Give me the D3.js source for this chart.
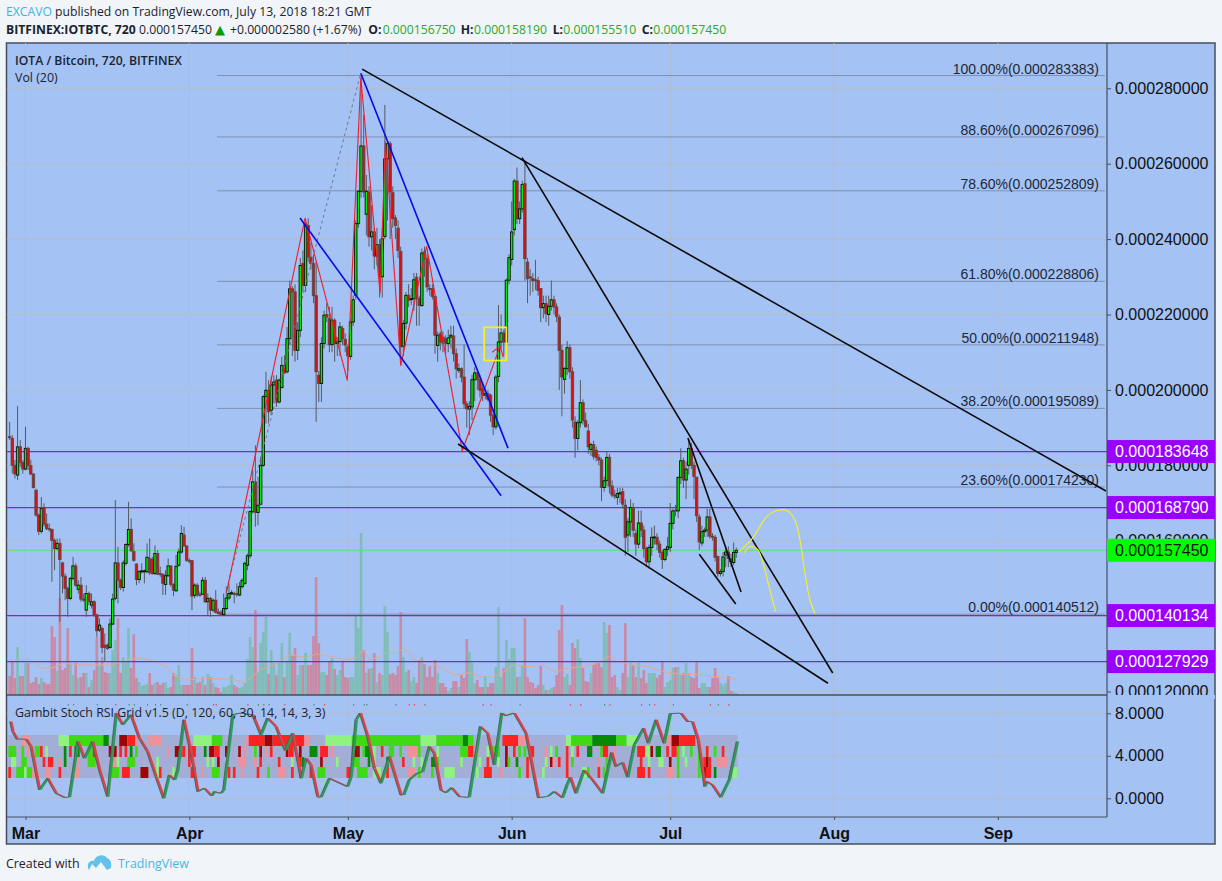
<!doctype html>
<html lang="en">
<head>
  <meta charset="utf-8">
  <title>IOTA / Bitcoin, 720, BITFINEX</title>
  <style>
    html, body { margin: 0; padding: 0; background: #f1f5f8; }
    svg { display: block; }
    .sans { font-family: "Open Sans", sans-serif; }
    .arial { font-family: "Liberation Sans", Arial, sans-serif; }
    .axis path, .axis line { stroke: #454f5e; }
    .axis text { fill: #111; }
  </style>
</head>
<body>
<div id="chart"></div>
<script src="https://cdn.jsdelivr.net/npm/d3@7"></script>
<script>
// prices are in units of 0.000001 BTC, one value per 12h candle
const opens = [
  187.6,187.1,180,177.4,184.9,180.7,179,184.5,179.9,177.7,
  173.4,166.8,162.5,168.8,164.4,163.2,163,160.1,157.9,159.3,
  154.1,150.6,147.3,144.7,150,153.3,147.1,148.2,144.5,141.6,
  146,142.9,143.8,140.3,136.3,136.7,132.3,132.3,131.7,137.9,
  144.7,154.1,149.5,147.6,154,159,163,157.1,153.8,149.7,
  151.8,151.8,151.8,155.3,155,151.3,156.6,151.3,151.1,148.4,
  150.7,153.3,148.4,146.7,153.5,157,161.5,158.6,154.8,154.7,
  145.5,148.2,145.8,145.8,149.5,143.8,144.7,141.6,144.2,141.1,
  140.9,140.4,142,144.8,146,146,146,145.6,147.8,148.7,
  153.5,156,167.7,175.6,167.5,169.7,180,198.2,199.9,194.6,
  201.3,202.6,196.8,200.6,206.5,204.8,213.6,226.8,226,210.5,
  215.8,233.5,227.7,243.6,235.2,233.5,225,203.9,201.7,212.3,
  220,219,212,218.5,212.3,212.8,216.3,213.4,211.4,208.9,
  218,225.1,244.1,252.7,264.7,246.6,252.5,240.6,241.9,235.5,
  238.5,230,240.7,261.3,265.3,252.3,245.6,242.9,236.7,211.6,
  217.7,225.1,224.2,224.2,229.9,224.2,222.4,236.6,234.8,226.9,
  226.9,224.8,211.8,214.9,214,213.5,212.3,214,214.3,209.6,
  205.2,205.6,203.4,196.3,194.9,195.5,202.7,204.5,202.7,200.4,
  198.6,199,198.6,193.3,190.2,203.6,212.7,215.1,212.7,229.1,
  234.6,242.5,255.4,245.4,248,254.7,233.9,230,229.5,229.2,
  229,226.9,221.8,222.9,220,222.2,223.9,222,219.3,210.5,
  202.8,205.7,211.2,204.8,191.5,187.1,191.3,196.6,191.8,189.1,
  184.2,185.5,184,182.1,181.4,174.1,176,182.1,174.5,172.1,
  171.5,172.5,173,169.4,161.5,165,168.8,161.9,159.1,164.7,
  162.8,157.9,154.4,158.2,160.9,160.9,159.1,156.9,155,157.7,
  158.2,164.6,168.1,167.9,176.8,181.2,176.1,180,184.5,180,
  176.8,166.3,159.4,162.4,162.8,166.3,161.2,160.9,155.8,151.3,
  151.8,156.2,157,155.3,154.2,156.9
];
const closes = [
  187.4,180,177.7,184.9,180.7,179,184.5,179.9,177.7,174.1,
  166.8,162.5,168.5,164.4,163.2,163,160.1,157.9,159.3,155,
  150.6,147.3,144.7,150,153.3,148.2,148.2,144.5,144.4,146,
  143.8,143.8,140.3,136.1,137.6,131.7,131.7,131.4,137.9,144.5,
  154.1,149.5,147.6,154.1,159,163,157.3,154.8,149.7,151.8,
  152,152,155.6,151.5,151.3,156.6,151.1,151,148.7,150.7,
  153.3,148.4,146.9,153.2,157,161.9,158.6,154.8,154.7,145.3,
  148.2,145.6,145.6,149.5,143.8,144.7,141.6,144.2,141,140.7,
  140.5,142,144.8,146,146.2,145.7,145.7,147.8,149.5,154,
  156,167.7,175.6,167.5,169.4,180,198.2,199.9,194.2,201.3,
  202.1,196.8,202.6,206.5,204.5,213.6,226.8,226,210.5,215.8,
  233,227.7,243.9,235.2,233.5,225,204.8,201.7,212.3,219.8,
  219.3,212,218.5,212.3,212.8,216.7,213.6,211.9,209,218,
  223.9,244.1,252.7,264.7,252.5,252.7,240.6,241.9,235.5,238.5,
  230,240.1,261.3,265.3,252.5,245.4,243.6,237,211.4,217.6,
  225.1,223.8,224.2,229.2,224.2,222.4,236.3,234.8,227.3,226.7,
  224.8,214.5,214.5,212.7,212.4,212.4,213.8,214.5,209.6,205.6,
  205.6,203.4,196.3,195,195.6,202.7,204.5,202.7,199.9,198.6,
  199,197.5,193.3,190.2,203.4,212.7,215.1,212.7,229.1,235.1,
  241.9,255.4,245.4,248,254.5,234.8,229.5,229.9,229,229,
  226.4,221.8,222.9,220.2,222.2,223.9,222,219.5,210.5,203.4,
  205.7,211.2,204.8,192,187.1,191.3,196.6,191.8,190.2,184.9,
  185.5,182.4,182.1,181.4,174.1,175.9,182.1,174.5,172.1,172,
  172.5,172.7,169.7,160.9,165,168.8,162.8,159.1,164.7,162.8,
  157.9,154.4,158.2,160.9,161,159.1,156.9,155,157.7,158.4,
  164.6,167.9,167.9,176.8,181.2,176.1,179,184.5,180,177,
  166.6,159.7,162.4,162.8,166.3,161.2,160.9,155.6,151.3,151.8,
  155.7,157,155.3,154.4,156.9,157.45
];
const highs = [
  191.5,188,181.4,195.7,186.7,181.4,190.2,184.9,181.5,177.8,
  173.8,167.2,171.6,169.9,167.2,164.6,163.2,160.6,160.6,160.6,
  154.4,151.3,147.8,150.4,155.7,154,149.5,150.4,146,148.2,
  146.5,146,144.2,140.7,139.4,137.2,135.4,132.7,139.4,146,
  170.8,158.4,150,154.8,159.3,170.3,165.9,159.3,154,152.2,
  154,152.4,159.3,160.6,155.7,158.8,157.5,153.1,151.3,152.2,
  155.3,153.5,148.7,156.2,158,164.1,163.7,158.8,155.3,154.8,
  148.7,148.7,146.5,150.4,150.4,146,145.1,144.7,146.9,142,
  141.6,146,147.8,148.7,146.9,146.5,148.7,149.1,150,154.4,
  156.6,168.1,178.7,185.3,176.9,182.3,198.6,204.8,202.6,203.5,
  203.9,203.9,203,208.8,209.2,216.7,229,227.5,228,218,
  235,237,244.5,245.5,239,236,234,205,214,221,
  223,222,222,219,214,218,217,215,212,219,
  225,245,253,283.5,273,257,254,249,243,243,
  240,243,275.6,266,266,254,246.4,245,238,218.5,
  226,228,227,231,231,225,237.5,238,236,228,
  228,225,215.5,215.5,215.5,214.5,216,217,217,211,
  207,206,212,197,197,204,206,205,204,202,
  200,200,199,194,204,222.5,220,216,229.5,236,
  250,256,259,250,255.5,261,235,232,231,234.5,
  230,227,225,225,225,229,225,223,220,212,
  206,213,212,206,193,192,202.6,197.5,194,191,
  186,186.5,185,183,182,177,183.5,183,176,173.5,
  174,174,174,171,166,171,170,163,168,168,
  164,158.5,159,163.5,164,162,160,157.5,158,161,
  170,168.5,169.5,177,184.5,182,181,187,186,181,
  177,167,164,163.5,168.5,168.5,162,161.5,156,152.5,
  157,158,158.5,156.5,159.5,158.2
];
const lows = [
  186.7,177.8,176.5,176.1,179.6,177.8,178.7,178.7,177.4,173.8,
  166.3,161.5,161.9,163.7,162.8,162.4,149.1,152.2,157.5,138.5,
  146,144.2,139.8,144.2,149.5,147.8,146,143.8,143.8,139.8,
  142.9,142,139.8,134.5,135.8,130.1,127.9,131,131.4,137.6,
  144.2,143.4,146.9,146.5,153.5,158.4,157.1,154.4,148.2,148.7,
  151.3,148.7,151.3,150.9,150.9,150.9,150.9,150.4,145.6,145.6,
  150.4,147.8,145.3,146.5,153.1,156.6,158.4,154.4,154,141.6,
  144.7,145.1,145.1,145.6,143.4,140.3,139.8,141.1,140.7,140.5,
  140.3,140.3,141.6,144.2,145.6,143.4,145.1,145.3,147.3,148.2,
  152.2,155.3,167.2,163.7,164.1,169.4,179.6,191.1,191.1,193.3,
  196.4,195.5,196.4,200.4,204.2,204.4,212,209,207.5,207.9,
  214,226,226,234,232,223,191.5,196.8,196.8,211,
  218,210,210,207.5,209,209,212,210,205,208,
  217,224,243,251,251,241,238,237,232,233,
  224.5,224.5,240,245,240,243,240,235,208,209,
  216,222,222.5,221,217,217,222,230,226,225,
  224,209.6,207.5,210.5,210,209.5,210,211,207.5,203,
  204.5,202,195,190,188,192,197,200,198,197,
  197.5,197,191.5,188,189.5,202,211,209,212,228,
  233,241,244,244,247,229,223,225,226,226.5,
  225,218,219,218,217,221,220,218,200,193,
  199,204,203,190,182,184,190,190.8,190,183,
  182.5,181.5,181,180,170.5,173,174.5,172.5,171.5,171,
  169.5,170,168.5,156,157,161,161,156,158,161,
  155.5,153,152.5,156,159,157.5,155.5,152.5,154.5,156,
  157,163,166.5,166,175,174,171,177.5,179,171,
  165,157.5,158.5,161,161,160.5,160,154.5,150.5,150.5,
  150.5,153,153,153,153.5,155.5
];
const volumes = [
  19,33,17,48,19,19,32,32,12,13,
  18,11,17,13,11,11,69,58,24,97,
  25,27,67,32,20,32,17,18,22,22,
  8,15,25,58,30,38,23,22,22,45,
  55,77,22,38,33,67,27,61,17,13,
  9,10,11,22,10,12,13,10,12,13,
  7,8,22,20,30,10,10,10,10,47,
  18,12,13,18,10,21,18,12,8,7,
  3,8,8,10,20,10,8,7,8,12,
  36,58,48,85,23,52,63,78,21,45,
  32,20,32,52,18,33,62,40,47,20,
  30,30,42,30,30,59,118,52,23,23,
  20,33,37,26,20,25,33,18,17,18,
  18,80,67,162,45,22,26,27,42,13,
  22,20,89,63,21,22,20,29,83,38,
  23,25,14,18,12,35,38,31,18,29,
  18,35,22,12,12,8,4,7,14,14,
  8,20,17,56,43,32,12,15,8,8,
  19,8,12,12,28,88,18,27,55,36,
  47,47,18,18,30,77,18,13,12,7,
  10,29,10,5,5,7,8,20,65,90,
  18,21,10,52,47,56,37,27,14,13,
  22,30,32,32,28,73,62,70,18,20,
  8,5,22,72,18,32,30,18,32,17,
  25,12,22,22,22,17,20,33,8,13,
  15,27,28,28,20,22,32,22,18,17,
  33,7,12,12,8,8,17,27,17,12,
  10,12,19,4,3,2
];

// Vol (20) average
const volAvgBars = [0,7.7,12.6,16.5,20.3,28,38,47,52,59.5,62,67,74.7,84.6,89,94.7,99.8,106,112.4,116.2,122.4,127.6,131.4,133.6,136.4,140,142,146.5,149,151.5,153.4,159,163.5,168.6,174.2,179.2,183,186.8,190.5,195.6,202,206.4,211,217,222.2,227,229,236,242.3,247.3,253.7,261,267.7,275];
const volAvgVals = [35,35.7,26.7,27.3,31.7,30,30,36.7,35.7,28.3,20,15,16.7,15.7,12.3,25,30,40,37.7,41,38.3,35,37.7,45,35,38.3,41.7,41.7,46.7,41.7,34.3,33.3,26.7,20,22.3,17.7,17.7,23,30,28.3,30,23,26.7,28.3,31.7,39,34,30,28.3,23.3,21,20,18.3,15.7];

// Stoch RSI line, read at its turning points
const stochBars = [0,0.8,2.4,5.8,7.7,10.9,14,17.2,20.3,22.2,25.4,27.9,31,33.6,36.7,39.9,42.4,45.5,48.7,51.8,55,57.9,60,62,63.2,65.5,68.3,70.8,73.3,76.1,77.1,79.6,80.6,84,87.2,91.6,94.7,97.2,100.4,103.9,106.7,109.9,111.8,113.6,116.2,117.4,120.6,127.5,128.8,130.7,132.3,135.1,137.6,140.1,143.3,147.7,148.7,150.8,153.4,155.9,158.4,160.3,162.8,164.7,166.9,169.8,173.5,177.7,180.5,183,185.8,187.4,190.6,195,199.7,203.2,205.7,208.8,210.5,211.8,213.9,217,220.2,224,227.4,229,231.6,233.5,236,239.5,241.3,244.2,247.3,249.6,253.6,256.1,258,260.2,262.7,263.5,265.6,268.7,271.9,275];
const stochVals = [7.23,6.29,5.57,5.57,4.87,0.79,1.89,0.47,0.09,0.09,5.35,3.77,5.35,2.67,0.16,8.02,6.92,7.86,5.66,4.4,2.04,0,2.2,1.73,2.67,7.39,4.24,0.63,0.94,0.22,0.63,0.47,0.79,7.86,8.02,7.86,5.97,7.55,6.76,4.5,6.13,1.89,3.77,3.15,0.16,0.09,1.89,1.1,2.04,7.39,8.02,5.82,2.83,1.41,3.93,0.31,0.31,1.73,2.29,2.51,4.87,4.24,0.79,0.53,1,0.16,0.09,6.76,6.13,3.15,8.02,7.77,8.02,6.13,0.06,0.16,0.63,0.06,1.26,1.98,0.47,2.67,1.73,0.47,4.31,2.99,3.36,1.98,5.03,6.6,5.19,7.39,5.19,7.96,8.02,7.23,7.23,5.5,1.1,1.57,1.26,0.09,1.73,5.35];
const stochLagBars = 1.1;

// grid rows of the Gambit indicator, "firstBar-lastBar colour"
const gridTopRow = "5-7P 19-22L 23-35G 36-37D 42-44M 45-47R 48P 53-57P 70-76L 77-80G 90P 91-96R 97-99M 100-111R 112-113P 120-129L 130-155G 156-161L 162-171G 172-173D 174-175G 187-192R 193-195P 211-212L 213-220G 221-229D 230-233G 234-237L 249-250P 251-253M 254-259R";
const gridRowTwo = "0-2G 5G 7P 10-11G 12R 14L 21D 23R 25-26D 30-31G 32R 38M 39R 40M 42R 44R 46D 48G 60P 63-64M 65R 66R 68-70R 74D 76-77M 78R 79R 82M 87M 89P 93G 95M 97P 99R 105M 106-107R 110M 114-116D 118-120R 122P 130-131M 132M 134G 135-136D 138L 141R 144-145G 148G 151-154P 155G 162L 171-173G 174-175R 177P 181L 183-185G 188M 191R 193G 195G 197-198R 203P 205L 207G 211R 213L 215R 219-220D 224G 225-226R 229P 238-240R 241-242L 243M 245-246D 249R 251-252R 253G 255L 258G 261G 264R 267G 270R";
const gridRowThree = "1-2L 5-6G 13R 15-16R 19P 21D 26P 30-32G 39-40P 41L 45-47G 56L 68R 75L 77L 79M 82L 87-89P 93P 95R 102R 107L 110R 111D 118M 124L 130-132G 136D 138L 143D 149R 153L 156L 160-161D 162G 171L 178L 181R 185L 188M 189G 192D 196R 203L 205M 206P 208R 211R 213G 223P 226G 229P 239R 242L 246-247L 250M 253G 256L 261G 263R 264M 265R 268-271P";
const gridRowFour = "0R 3-5G 6L 7-8G 9-10P 14-15P 19R 25-26P 39-41G 43-45R 50-52M 56L 57R 62L 69-70R 73P 77-79G 83R 85R 88P 94R 98G 102-104P 107R 114R 117-119G 128-129R 132-135G 138-140L 143R 151-153P 155G 160G 165-168L 177L 180-182R 186P 193G 196R 202L 211R 217-218L 219G 223R 225G 238-240R 242R 249-251P 253G 261G 263M 264-265R 267D 274-275L";
const redDotBars = [24,40,52,77,78,90,96,104,119,130,151,153,157,179,182,212,216,227,239,244,251,265,272];
const greenDotBars = [22,33,45,47,55,57,67,94,98,115,134,135,146,193,225,242,268];

const priceTicks = [120,140,160,180,200,220,240,260,280];
const stochTicks = [0,4,8];
const monthBars = [6,68,128,190,250,312,374];
const monthNames = ["Mar","Apr","May","Jun","Jul","Aug","Sep"];

const fibPercents = ["100.00%","88.60%","78.60%","61.80%","50.00%","38.20%","23.60%","0.00%"];
const fibPrices = [283.383,267.096,252.809,228.806,211.948,195.089,174.230,140.512];
const levelPrices = [183.648,168.790,140.134,127.929];
const lastPrice = 157.45;

// drawn lines as [bar, price] pairs
const blackLines = [
  [[133.4,285.1],[414.9,173.2]],
  [[193.9,261.6],[311.5,124.9]],
  [[169.7,185.65],[309.7,122.2]],
  [[256.7,187.25],[276.8,146.4]],
  [[261,156.4],[274.8,143.2]]
];
const blueLines = [
  [[132.9,284],[188.6,184.55]],
  [[109.9,245.6],[186,171.9]]
];
const redZigzag = [[82.1,146.3],[111.8,245.6],[127.8,202.5],[132.9,282.8],[140.2,225.6],[142.2,265.85],[148,206.4],[157.8,238.1],[171.3,183.85],[185.6,211.6]];
const redArrow = [[182.6,210],[185.6,211.6],[186.8,208.7]];
const dashedLine = [[82.1,147.1],[132.7,283.5]];
const yellowBox = [[179.6,216.6],[188,207.8]];
const yellowCurveA = [[278,156.8],[279.5,158.2],[281.4,158.4],[283.3,157.5],[285.2,154],[287.1,148.7],[289.9,141.2]];
const yellowCurveB = [[276.1,157.1],[281.4,160.9],[286.5,166.4],[290.3,168],[294.1,168],[297.2,165.5],[299.1,160.2],[301,151.4],[302.9,144.3],[304.8,140.6]];

const width = 1222, height = 881;
const paneLeft = 7, paneRight = 1107, outerRight = 1215;
const paneTop = 43, mainBottom = 695, subBottom = 817, outerBottom = 844;

const svg = d3.select("#chart").append("svg")
  .attr("width", width)
  .attr("height", height);

const x = d3.scaleLinear().domain([-1, 415.3]).range([paneLeft, paneRight]);
const y = d3.scaleLinear().domain([120, 280]).range([691.5, 88.3]);
const yVol = d3.scaleLinear().domain([0, 162]).range([mainBottom, 533]);
const yStoch = d3.scaleLinear().domain([0, 8]).range([798.3, 713.3]);
const pt = d => [x(d[0]), y(d[1])];
const barStep = x(1) - x(0);
const fmtPrice = v => (v / 1e6).toFixed(9);

// chart background
svg.append("rect")
  .attr("x", 6.5).attr("y", paneTop)
  .attr("width", outerRight - 6.5).attr("height", outerBottom - paneTop)
  .attr("fill", "#a4c2f4")
  .attr("stroke", "#454f5e").attr("stroke-width", 1.5);

// grid
const grid = svg.append("g").attr("stroke", "#b4bdc9").attr("stroke-width", 1);
grid.selectAll(".vgrid").data(monthBars).join("line").attr("class", "vgrid")
  .attr("x1", d => x(d)).attr("x2", d => x(d))
  .attr("y1", paneTop).attr("y2", subBottom);
grid.selectAll(".hgrid").data(priceTicks).join("line").attr("class", "hgrid")
  .attr("x1", paneLeft).attr("x2", paneRight)
  .attr("y1", d => y(d)).attr("y2", d => y(d));
grid.selectAll(".sgrid").data(stochTicks).join("line").attr("class", "sgrid")
  .attr("x1", paneLeft).attr("x2", paneRight)
  .attr("y1", d => yStoch(d)).attr("y2", d => yStoch(d));

// volume
svg.append("g").selectAll("rect").data(volumes).join("rect")
  .attr("x", (d, i) => x(i) - barStep / 2)
  .attr("width", barStep)
  .attr("y", d => yVol(d))
  .attr("height", d => mainBottom - yVol(d))
  .attr("fill", (d, i) => closes[i] < opens[i] ? "#c98aa5" : "#80bdb8");
svg.append("path")
  .attr("d", d3.line().x(d => x(d)).y((d, i) => yVol(volAvgVals[i]))(volAvgBars))
  .attr("fill", "none")
  .attr("stroke", "#e4a98e")
  .attr("stroke-width", 1);

// fibonacci levels
const fib = svg.append("g");
fib.selectAll("line").data(fibPrices).join("line")
  .attr("x1", x(78.5)).attr("x2", x(414.5))
  .attr("y1", d => y(d)).attr("y2", d => y(d))
  .attr("stroke", "#7f90b0").attr("stroke-width", 1);
fib.selectAll("text").data(fibPrices).join("text")
  .attr("class", "arial")
  .attr("x", 1099)
  .attr("y", d => y(d) - 2)
  .attr("text-anchor", "end")
  .attr("font-size", 14)
  .attr("fill", "#1c2738")
  .text((d, i) => `${fibPercents[i]}(${fmtPrice(d)})`);

// horizontal price levels
svg.append("g").selectAll("line").data(levelPrices).join("line")
  .attr("x1", paneLeft).attr("x2", paneRight)
  .attr("y1", d => y(d)).attr("y2", d => y(d))
  .attr("stroke", "#7f24d8").attr("stroke-width", 1.3);
svg.append("line")
  .attr("x1", paneLeft).attr("x2", paneRight)
  .attr("y1", y(lastPrice)).attr("y2", y(lastPrice))
  .attr("stroke", "#62e08a").attr("stroke-width", 1.2);

// candles
const candles = svg.append("g");
candles.selectAll("line").data(closes).join("line")
  .attr("x1", (d, i) => x(i)).attr("x2", (d, i) => x(i))
  .attr("y1", (d, i) => y(highs[i])).attr("y2", (d, i) => y(lows[i]))
  .attr("stroke", "#565b62").attr("stroke-width", 1);
candles.selectAll("rect").data(closes).join("rect")
  .attr("x", (d, i) => x(i) - 1.2)
  .attr("width", 2.4)
  .attr("y", (d, i) => y(Math.max(opens[i], d)))
  .attr("height", (d, i) => Math.max(1, Math.abs(y(opens[i]) - y(d))))
  .attr("fill", (d, i) => d < opens[i] ? "#dc0f0f" : "#00f000")
  .attr("stroke", (d, i) => d < opens[i] ? "#5f4646" : "#041004")
  .attr("stroke-width", 0.9);

// drawings
const draw = d3.line().x(d => pt(d)[0]).y(d => pt(d)[1]);
const drawings = svg.append("g").attr("fill", "none");
drawings.append("path")
  .attr("d", draw(dashedLine))
  .attr("stroke", "#6c7a90").attr("stroke-width", 1).attr("stroke-dasharray", "3 3");
drawings.append("path")
  .attr("d", draw(redZigzag))
  .attr("stroke", "#f01d2c").attr("stroke-width", 1.1);
drawings.append("path")
  .attr("d", draw(redArrow))
  .attr("stroke", "#f01d2c").attr("stroke-width", 1.1);
drawings.selectAll(".blue").data(blueLines).join("path").attr("class", "blue")
  .attr("d", draw)
  .attr("stroke", "#0808e8").attr("stroke-width", 1.6);
drawings.selectAll(".black").data(blackLines).join("path").attr("class", "black")
  .attr("d", draw)
  .attr("stroke", "#0a0a0a").attr("stroke-width", 1.6);
drawings.append("rect")
  .attr("x", x(yellowBox[0][0])).attr("y", y(yellowBox[0][1]))
  .attr("width", x(yellowBox[1][0]) - x(yellowBox[0][0]))
  .attr("height", y(yellowBox[1][1]) - y(yellowBox[0][1]))
  .attr("stroke", "#f7f01a").attr("stroke-width", 1.8);
const curve = d3.line().x(d => pt(d)[0]).y(d => pt(d)[1]).curve(d3.curveCatmullRom);
drawings.selectAll(".yellow").data([yellowCurveA, yellowCurveB]).join("path").attr("class", "yellow")
  .attr("d", curve)
  .attr("stroke", "#f4ee2c").attr("stroke-width", 1.2);

// main and sub pane separators
svg.append("line")
  .attr("x1", 6.5).attr("x2", paneRight)
  .attr("y1", mainBottom).attr("y2", mainBottom)
  .attr("stroke", "#454f5e").attr("stroke-width", 1.5);
svg.append("line")
  .attr("x1", 6.5).attr("x2", paneRight)
  .attr("y1", subBottom).attr("y2", subBottom)
  .attr("stroke", "#454f5e").attr("stroke-width", 1.2);

// gambit grid
const gridColors = { L: "#90f27f", G: "#3fd916", D: "#068a06", P: "#ee919c", R: "#ff2222", M: "#9e0505" };
const gridRows = [
  { y: 735, h: 11, cells: gridTopRow },
  { y: 746, h: 11, cells: gridRowTwo },
  { y: 757, h: 10, cells: gridRowThree },
  { y: 767, h: 11, cells: gridRowFour }
];
const gambit = svg.append("g");
gambit.append("rect")
  .attr("x", x(-0.5)).attr("y", 735)
  .attr("width", x(275.5) - x(-0.5)).attr("height", 43)
  .attr("fill", "#a2aed6");
gridRows.forEach(row => {
  const runs = row.cells.split(" ").map(s => {
    const m = s.match(/^(\d+)(?:-(\d+))?([A-Z])$/);
    return { from: +m[1], to: m[2] ? +m[2] : +m[1], color: gridColors[m[3]] };
  });
  gambit.append("g").selectAll("rect").data(runs).join("rect")
    .attr("x", d => x(d.from - 0.5))
    .attr("width", d => (d.to - d.from + 1) * barStep)
    .attr("y", row.y)
    .attr("height", row.h)
    .attr("fill", d => d.color);
});

// small alert dots on top of the sub pane
svg.append("g").selectAll("rect").data(redDotBars).join("rect")
  .attr("x", d => x(d)).attr("y", 704).attr("width", 1).attr("height", 1.5).attr("fill", "#f33");
svg.append("g").selectAll("rect").data(greenDotBars).join("rect")
  .attr("x", d => x(d)).attr("y", 704).attr("width", 1).attr("height", 1.5).attr("fill", "#2e8b57");

// stoch rsi wedge, %D trails %K by a little
const lagged = stochBars.map(b => b + stochLagBars);
const stochSegments = d3.range(stochBars.length - 1);
svg.append("g").selectAll("path").data(stochSegments).join("path")
  .attr("d", i => {
    const a = stochVals[i], b = stochVals[i + 1];
    return "M" + [
      [x(stochBars[i]), yStoch(a)],
      [x(stochBars[i + 1]), yStoch(b)],
      [x(lagged[i + 1]), yStoch(b)],
      [x(lagged[i]), yStoch(a)]
    ].join("L") + "Z";
  })
  .attr("fill", i => stochVals[i + 1] >= stochVals[i] ? "#2f9a5a" : "#d8434c");
svg.append("path")
  .attr("d", d3.line().x(d => x(d)).y((d, i) => yStoch(stochVals[i]))(stochBars))
  .attr("fill", "none").attr("stroke", "#40645a").attr("stroke-width", 0.9);

// axes
const priceAxis = d3.axisRight(y).tickValues(priceTicks).tickSize(4).tickPadding(4).tickFormat(fmtPrice);
svg.append("g").attr("class", "axis arial")
  .attr("transform", `translate(${paneRight},0)`)
  .call(priceAxis)
  .call(g => g.select(".domain").remove())
  .call(g => g.selectAll("text").attr("font-size", 16));
const stochAxis = d3.axisRight(yStoch).tickValues(stochTicks).tickSize(4).tickPadding(4).tickFormat(d3.format(".4f"));
svg.append("g").attr("class", "axis arial")
  .attr("transform", `translate(${paneRight},0)`)
  .call(stochAxis)
  .call(g => g.select(".domain").remove())
  .call(g => g.selectAll("text").attr("font-size", 16));
const monthAxis = d3.axisBottom(x).tickValues(monthBars).tickSize(3).tickPadding(8).tickFormat((d, i) => monthNames[i]);
svg.append("g").attr("class", "axis arial")
  .attr("transform", `translate(0,${subBottom})`)
  .call(monthAxis)
  .call(g => g.select(".domain").remove())
  .call(g => g.selectAll("text").attr("font-size", 16).attr("font-weight", "bold"));

// the pane line covers the foot of the lowest price label
svg.append("rect")
  .attr("x", paneRight).attr("y", mainBottom)
  .attr("width", outerRight - paneRight).attr("height", 4)
  .attr("fill", "#a4c2f4");
svg.append("line")
  .attr("x1", paneRight).attr("x2", paneRight)
  .attr("y1", paneTop).attr("y2", subBottom)
  .attr("stroke", "#454f5e").attr("stroke-width", 1.2);

// price badges on the axis
const badges = svg.append("g").attr("class", "arial");
const badgeData = levelPrices.map(p => ({ p, fill: "#9900ff", color: "#fff" }));
badgeData.splice(2, 0, { p: lastPrice, fill: "#00ff00", color: "#111" });
badges.selectAll("rect").data(badgeData).join("rect")
  .attr("x", paneRight).attr("width", outerRight - paneRight)
  .attr("y", d => y(d.p) - 11.5).attr("height", 23)
  .attr("fill", d => d.fill);
badges.selectAll("text").data(badgeData).join("text")
  .attr("x", 1115)
  .attr("y", d => y(d.p) + 5.5)
  .attr("font-size", 16)
  .attr("fill", d => d.color)
  .text(d => fmtPrice(d.p));

// legends
const legends = svg.append("g").attr("class", "sans").attr("font-size", 12.4).attr("fill", "#1a2230");
legends.append("text").attr("x", 15).attr("y", 65).attr("font-size", 12.2).attr("font-weight", 600).text("IOTA / Bitcoin, 720, BITFINEX");
legends.append("text").attr("x", 15).attr("y", 82).text("Vol (20)");
legends.append("text").attr("x", 15).attr("y", 717).text("Gambit Stoch RSI Grid v1.5 (D, 120, 60, 30, 14, 14, 3, 3)");

// header
const head = svg.append("g").attr("class", "sans").attr("font-size", 12.2).attr("fill", "#1a2230");
const line1 = head.append("text").attr("x", 6).attr("y", 16);
line1.append("tspan").attr("fill", "#3fb1e3").text("EXCAVO");
line1.append("tspan").text(" published on TradingView.com, July 13, 2018 18:21 GMT");
const line2 = head.append("text").attr("y", 34);
line2.append("tspan").attr("x", 6).attr("font-weight", 700).text("BITFINEX:IOTBTC, 720");
line2.append("tspan").attr("x", 139).text("0.000157450");
line2.append("tspan").attr("x", 215).attr("fill", "#0a9b0a").attr("font-size", 13).attr("font-family", "DejaVu Sans").text("▲");
line2.append("tspan").attr("x", 230).text("+0.000002580 (+1.67%)");
const ohlcLabels = ["O:", "H:", "L:", "C:"];
const ohlcValues = ["0.000156750", "0.000158190", "0.000155510", "0.000157450"];
const ohlcLabelX = [368.3, 460.7, 552.7, 641.7];
const ohlcValueX = [382.7, 474, 563.3, 653.3];
ohlcLabels.forEach((d, i) => {
  line2.append("tspan").attr("x", ohlcLabelX[i]).attr("font-weight", 700).text(d);
  line2.append("tspan").attr("x", ohlcValueX[i]).attr("fill", "#2ea52e").text(ohlcValues[i]);
});

// footer
const foot = svg.append("g").attr("class", "sans");
foot.append("text").attr("x", 6).attr("y", 868).attr("font-size", 12.4).attr("fill", "#1a2230").text("Created with");
foot.append("path")
  .attr("d", "M88 868 C87 862 91 860 94 861 C95 855 104 853 107 858 C110 859 112 862 111 868 L107 870 L101 862 L96 868 L92 864 L89 870Z")
  .attr("fill", "#62c2ea");
foot.append("text").attr("x", 118).attr("y", 868).attr("font-size", 12.4).attr("fill", "#4ab3e4").text("TradingView");
</script>
</body>
</html>
